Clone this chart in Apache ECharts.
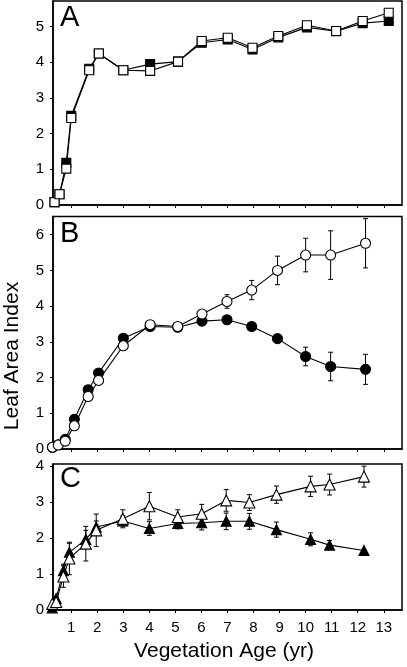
<!DOCTYPE html>
<html><head><meta charset="utf-8">
<script src="https://cdn.jsdelivr.net/npm/echarts@6/dist/echarts.min.js"></script>
<style>html,body{margin:0;padding:0;background:#fff}#c{width:407px;height:667px}</style>
</head><body><div id="c"></div>
<script>
// ---- data ----
const xTicks = [1,2,3,4,5,6,7,8,9,10,11,12,13];
const yTicksA = [0,1,2,3,4,5];
const yTicksB = [0,1,2,3,4,5,6];
const yTicksC = [0,1,2,3,4];

const ageA = [0.36,0.55,0.81,1.0,1.69,2.06,3.0,4.03,5.1,6.01,7.01,7.96,8.95,10.05,11.17,12.19,13.19];
const laiA_filled = [0.08,0.3,1.18,2.5,3.82,4.25,3.78,3.95,4.02,4.55,4.64,4.36,4.7,4.98,4.87,5.1,5.16];
const laiA_open   = [0.08,0.3,1.02,2.44,3.78,4.25,3.78,3.76,4.02,4.6,4.69,4.41,4.74,5.04,4.88,5.16,5.39];

const ageB = [0.28,0.5,0.77,1.12,1.65,2.05,3.0,4.03,5.09,6.02,6.98,7.93,8.92,10.0,10.96,12.3];
const laiB_filled = [0.05,0.12,0.27,0.83,1.66,2.13,3.1,3.43,3.41,3.58,3.62,3.43,3.09,2.59,2.31,2.23];
const errB_filled = [0,0,0,0,0,0,0,0,0,0,0,0,0,0.26,0.4,0.42];
const laiB_open   = [0.05,0.11,0.22,0.65,1.47,1.92,2.89,3.48,3.43,3.78,4.13,4.45,5.0,5.43,5.43,5.76];
const errB_open   = [0,0,0,0,0,0,0,0,0,0.07,0.19,0.27,0.4,0.47,0.68,0.69];

const ageC = [0.27,0.42,0.7,0.93,1.56,1.96,2.98,4.0,5.09,6.01,6.95,7.84,8.88,10.19,10.92,12.24];
const laiC_filled = [0.06,0.32,1.09,1.6,1.96,2.3,2.47,2.26,2.4,2.42,2.46,2.46,2.23,1.96,1.8,1.65];
const errC_filled = [0,0.05,0.18,0.25,0.25,0.17,0.14,0.19,0.15,0.2,0.23,0.22,0.21,0.18,0.13,0];
const laiC_open   = [0.17,0.22,0.93,1.43,1.84,2.21,2.53,2.88,2.58,2.67,3.04,2.98,3.2,3.43,3.48,3.7];
const errC_open   = [0,0,0.3,0.45,0.48,0.45,0.25,0.38,0.2,0.26,0.3,0.22,0.24,0.28,0.29,0.29];

// ---- chart ----
const FONT = "'Liberation Sans', Arial, sans-serif";
const chart = echarts.init(document.getElementById('c'), null, {renderer:'canvas'});
const pairs = (xs, ys) => xs.map((x,i)=>[x, ys[i]]);
const errData = (xs, ys, es) => xs.map((x,i)=>[x, ys[i]-es[i], ys[i]+es[i]]).filter((d,i)=>es[i]>0);

function errRender(params, api){
  const x = api.value(0), lo = api.value(1), hi = api.value(2);
  const p1 = api.coord([x, hi]), p2 = api.coord([x, lo]);
  const cw = 2.5, st = {stroke:'#000', lineWidth:1};
  return {type:'group', children:[
    {type:'line', shape:{x1:p1[0],y1:p1[1],x2:p2[0],y2:p2[1]}, style:st},
    {type:'line', shape:{x1:p1[0]-cw,y1:p1[1],x2:p1[0]+cw,y2:p1[1]}, style:st},
    {type:'line', shape:{x1:p2[0]-cw,y1:p2[1],x2:p2[0]+cw,y2:p2[1]}, style:st}
  ]};
}

const grids = [
  {left:53, width:349, top:1, height:204},
  {left:53, width:349, top:216.5, height:232.5},
  {left:53, width:349, top:464, height:146}
].map(g=>Object.assign(g,{show:true, borderColor:'#000', borderWidth:1.5, backgroundColor:'transparent'}));

const yMax = [5.72, 6.51, 4.05];
const yTicks = [yTicksA, yTicksB, yTicksC];

const xAxes = [0,1,2].map(i=>({
  type:'value', gridIndex:i, min:0.3, max:13.7,
  splitLine:{show:false},
  axisLine:{show:true, lineStyle:{color:'#000', width:1.5}},
  axisTick:{show:true, inside:false, length:3, customValues:xTicks, lineStyle:{color:'#000', width:1}},
  axisLabel:{show:i===2, customValues:xTicks, margin:10, color:'#000', fontSize:15, fontFamily:FONT}
}));
const yAxes = [0,1,2].map(i=>({
  type:'value', gridIndex:i, min:0, max:yMax[i],
  splitLine:{show:false},
  axisLine:{show:true, lineStyle:{color:'#000', width:1.5}},
  axisTick:{show:true, inside:false, length:3, customValues:yTicks[i], lineStyle:{color:'#000', width:1}},
  axisLabel:{show:true, customValues:yTicks[i], margin:9, color:'#000', fontSize:15, fontFamily:FONT}
}));

function lineS(idx, xs, ys, symbol, size, filled, z){
  return {type:'line', xAxisIndex:idx, yAxisIndex:idx, data:pairs(xs,ys), clip:false,
    symbol:symbol, symbolSize:size, showSymbol:true, z:z,
    lineStyle:{color:'#000', width:1.1},
    itemStyle:{color: filled?'#000':'#fff', borderColor:'#000', borderWidth:1.1},
    emphasis:{disabled:true}};
}
function errS(idx, xs, ys, es){
  return {type:'custom', xAxisIndex:idx, yAxisIndex:idx, data:errData(xs,ys,es),
    renderItem:errRender, encode:{x:0, y:[1,2]}, z:1, clip:false};
}

const series = [
  lineS(0, ageA, laiA_filled, 'rect', 9, true, 2),
  lineS(0, ageA, laiA_open, 'rect', 9, false, 3),
  errS(1, ageB, laiB_filled, errB_filled),
  errS(1, ageB, laiB_open, errB_open),
  lineS(1, ageB, laiB_filled, 'circle', 10, true, 2),
  lineS(1, ageB, laiB_open, 'circle', 10, false, 3),
  errS(2, ageC, laiC_filled, errC_filled),
  errS(2, ageC, laiC_open, errC_open),
  lineS(2, ageC, laiC_filled, 'triangle', 10, true, 2),
  lineS(2, ageC, laiC_open, 'triangle', 11, false, 3)
];

const textStyle = (t, size) => ({text:t, fill:'#000', font: size+'px '+FONT});
chart.setOption({
  animation:false,
  backgroundColor:'#fff',
  grid:grids, xAxis:xAxes, yAxis:yAxes, series:series,
  graphic:[
    {type:'text', left:60, top:3, style:textStyle('A',29), z:10},
    {type:'text', left:60, top:219, style:textStyle('B',29), z:10},
    {type:'text', left:60, top:464, style:textStyle('C',29), z:10},
    {type:'text', x:224, y:651, style:Object.assign(textStyle('Vegetation Age (yr)',21),{align:'center', verticalAlign:'middle'})},
    {type:'text', x:12.5, y:356, rotation:Math.PI/2, style:Object.assign(textStyle('Leaf Area Index',21),{align:'center', verticalAlign:'middle'})}
  ]
});
</script></body></html>
